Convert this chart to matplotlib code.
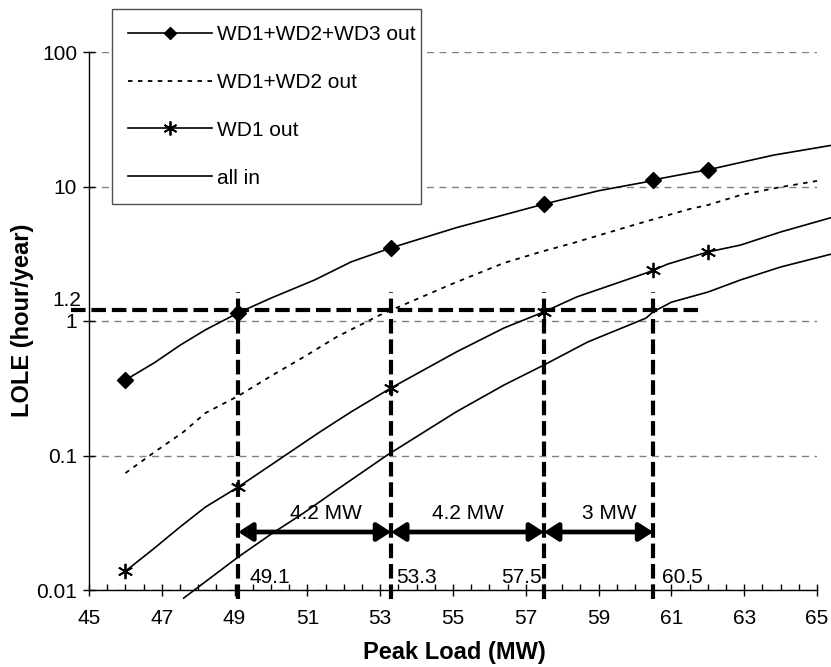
import matplotlib
matplotlib.use('Agg')
import matplotlib.pyplot as plt
from matplotlib.ticker import MultipleLocator, FixedLocator, NullLocator, FixedFormatter
from matplotlib.lines import Line2D
import matplotlib.transforms as mtransforms

plt.rcParams['font.family'] = ['Liberation Sans', 'DejaVu Sans']

# ---------------- data ----------------
x_a = [46, 46.8, 47.5, 48.2, 49.1, 50, 51.2, 52.2, 53.3, 55.1, 57.5, 59, 60.3, 60.5, 61.5, 62, 63.8, 65.7]
lole_a = [0.364, 0.49, 0.66, 0.86, 1.15, 1.48, 2.02, 2.75, 3.5, 4.95, 7.4, 9.3, 10.8, 11.2, 12.6, 13.3, 17.1, 20.9]
marks_a = [0, 4, 8, 10, 13, 15]

x_b = [46, 46.8, 47.6, 48.2, 49.1, 50, 50.9, 51.8, 53, 53.7, 55, 56.4, 57.4, 58.3, 60.2, 61.5, 62, 62.9, 64, 65]
lole_b = [0.074, 0.106, 0.150, 0.207, 0.277, 0.39, 0.54, 0.76, 1.11, 1.34, 1.9, 2.7, 3.26, 3.8, 5.4, 6.8, 7.28, 8.64, 9.9, 11.0]

x_c = [46, 46.8, 47.5, 48.2, 49.1, 50, 51.3, 52.2, 53.3, 55.1, 56.4, 57.5, 58.4, 60.3, 60.5, 60.9, 62, 62.9, 64, 65.7]
lole_c = [0.0138, 0.0205, 0.0294, 0.0414, 0.0583, 0.085, 0.147, 0.211, 0.318, 0.59, 0.887, 1.17, 1.51, 2.27, 2.39, 2.65, 3.26, 3.67, 4.59, 6.2]
marks_c = [0, 4, 8, 11, 14, 16]

x_d = [47.6, 48, 49.1, 50, 50.9, 51.8, 53.2, 55.1, 56.4, 57.5, 58.7, 60.3, 60.5, 61, 62, 62.9, 64, 65.7]
lole_d = [0.0087, 0.0105, 0.0176, 0.026, 0.0374, 0.0554, 0.101, 0.212, 0.334, 0.471, 0.698, 1.05, 1.17, 1.38, 1.64, 2.02, 2.52, 3.3]

series_labels = ['WD1+WD2+WD3 out', 'WD1+WD2 out', 'WD1 out', 'all in']

target_lole = 1.2
target_x_range = [44.5, 61.8]
cross_x = [49.1, 53.3, 57.5, 60.5]
cross_labels = ['49.1', '53.3', '57.5', '60.5']
cross_label_x = [49.4, 53.45, 57.45, 60.75]
cross_label_ha = ['left', 'left', 'right', 'left']
vline_range = [0.0085, 1.65]
arrow_y = 0.027
gap_labels = ['4.2 MW', '4.2 MW', '3 MW']
gap_label_x = [51.5, 55.4, 59.3]
gap_label_y = 0.037

y_ticks = [0.01, 0.1, 1, 10, 100]
y_ticklabels = ['0.01', '0.1', '1', '10', '100']
x_ticks = list(range(45, 66, 2))

FS = 15

# ---------------- figure ----------------
W, H = 831, 667
fig = plt.figure(figsize=(W / 100, H / 100), dpi=100)
ax = fig.add_axes([89 / W, (H - 590) / H, (817 - 89) / W, (590 - 52) / H])
ax.set_yscale('log')
ax.set_xlim(45, 65)
ax.set_ylim(0.01, 100)

for s in ['top', 'right']:
    ax.spines[s].set_visible(False)
for s in ['left', 'bottom']:
    ax.spines[s].set_linewidth(1.0)
    ax.spines[s].set_zorder(5)

ax.xaxis.set_major_locator(FixedLocator(x_ticks))
ax.xaxis.set_minor_locator(MultipleLocator(0.5))
ax.yaxis.set_major_locator(FixedLocator(y_ticks))
ax.yaxis.set_major_formatter(FixedFormatter(y_ticklabels))
ax.yaxis.set_minor_locator(NullLocator())
ax.tick_params(axis='x', which='major', direction='inout', length=9, width=1, pad=9, labelsize=FS)
ax.tick_params(axis='x', which='minor', direction='in', length=4, width=1)
ax.tick_params(axis='y', which='major', direction='inout', length=9, width=1, pad=4, labelsize=FS)

ax.yaxis.grid(True, which='major', color='#808080', linestyle=(0, (5, 4)), linewidth=1)
ax.set_axisbelow(True)

lw = 1.2
ax.plot(x_a, lole_a, color='black', lw=lw, marker='D', markersize=8.5, markevery=marks_a, clip_on=False, zorder=3)
ax.plot(x_b, lole_b, color='black', lw=1.3, linestyle=(0, (2.5, 3)), clip_on=False, zorder=3)
ax.plot(x_c, lole_c, color='black', lw=lw, marker=(6, 2, 0), markersize=11, markeredgewidth=1.3,
        markevery=marks_c, clip_on=False, zorder=3)
ax.plot(x_d, lole_d, color='black', lw=lw, clip_on=False, zorder=3)

# annotation lines
ax.plot(target_x_range, [target_lole, target_lole], color='black', lw=3, linestyle=(0, (3.5, 1.4)),
        clip_on=False, zorder=4)
for xv in cross_x:
    ax.plot([xv, xv], vline_range, color='black', lw=3, linestyle=(0, (3.5, 1.4)), clip_on=False, zorder=4)

for x0, x1 in zip(cross_x[:-1], cross_x[1:]):
    ax.annotate('', xy=(x1, arrow_y), xytext=(x0, arrow_y),
                arrowprops=dict(arrowstyle='<|-|>,head_length=0.42,head_width=0.27', lw=3.4,
                                color='black', shrinkA=0, shrinkB=0, mutation_scale=20), zorder=4)

for t, xv in zip(gap_labels, gap_label_x):
    ax.text(xv, gap_label_y, t, ha='center', va='center', fontsize=FS, zorder=4)

for t, xv, ha in zip(cross_labels, cross_label_x, cross_label_ha):
    ax.text(xv, 0.0123, t, ha=ha, va='center', fontsize=FS, zorder=4)

trans = mtransforms.blended_transform_factory(ax.transAxes, ax.transData)
ax.text(-8 / 728, target_lole, '1.2', transform=trans, ha='right', va='bottom', fontsize=FS)

fig.text(23 / W, 1 - 320 / H, 'LOLE (hour/year)', rotation=90, ha='center', va='center',
         fontsize=17, fontweight='bold')
fig.text(454 / W, 1 - 653 / H, 'Peak Load (MW)', ha='center', va='center',
         fontsize=17, fontweight='bold')

handles = [
    Line2D([], [], color='black', lw=lw, marker='D', markersize=6),
    Line2D([], [], color='black', lw=1.3, linestyle=(0, (2.5, 3))),
    Line2D([], [], color='black', lw=lw, marker=(6, 2, 0), markersize=10, markeredgewidth=1.3),
    Line2D([], [], color='black', lw=lw),
]
leg = fig.legend(handles, series_labels, loc='upper left',
                 bbox_to_anchor=(112 / W, 1 - 202 / H, 309 / W, 193 / H),
                 bbox_transform=fig.transFigure, mode='expand', borderaxespad=0,
                 fancybox=False, framealpha=1, edgecolor='#505050', fontsize=FS,
                 handlelength=4.0, handletextpad=0.25, labelspacing=1.38, borderpad=0.78)
leg.get_frame().set_linewidth(1.0)

fig.savefig('out.png', dpi=100)
